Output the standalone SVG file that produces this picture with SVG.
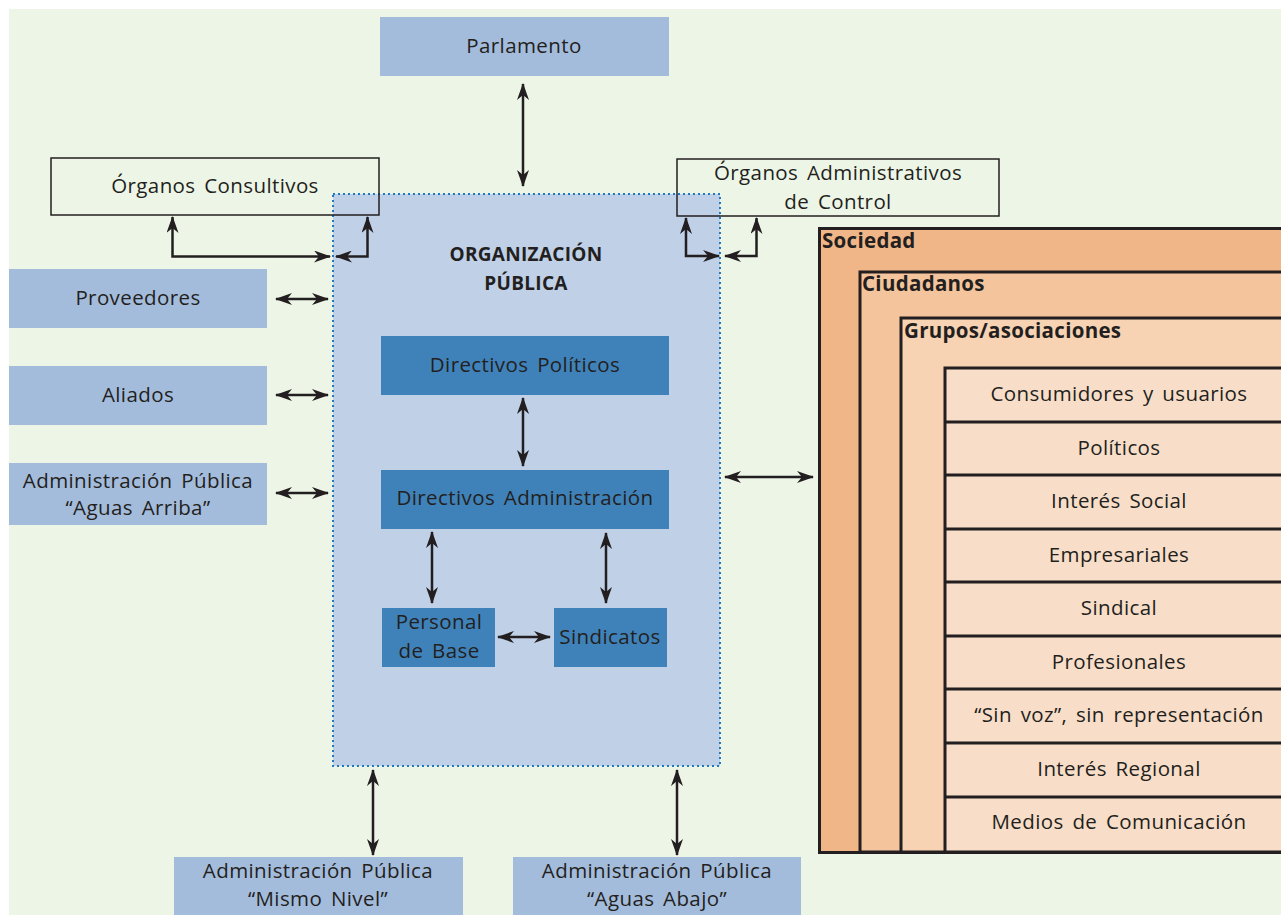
<svg xmlns="http://www.w3.org/2000/svg" width="1281" height="915" viewBox="0 0 1281 915">
<style>
.t{font-family:"Open Sans","Liberation Sans",sans-serif;font-size:20.5px;letter-spacing:0.4px;word-spacing:3px;fill:#231F20;text-anchor:middle}
.b{font-family:"Open Sans","Liberation Sans",sans-serif;font-size:19px;font-weight:bold;fill:#231F20}
.h{font-size:20.5px;letter-spacing:0.3px}
.lb{fill:#A4BCDC}
.db{fill:#3F82BA}
.ob{fill:none;stroke:#231F20;stroke-width:1.5}
.c{fill:none;stroke:#231F20;stroke-width:2.5;marker-start:url(#a);marker-end:url(#a)}
.s{stroke:#231F20;stroke-width:3}
</style>
<defs>
<marker id="a" markerUnits="userSpaceOnUse" markerWidth="17" markerHeight="12" refX="16" refY="6" orient="auto-start-reverse">
<path d="M0,0 L17,6 L0,12 L5,6 z" fill="#231F20"/>
</marker>
</defs>
<rect x="0" y="0" width="1281" height="915" fill="#FFFFFF"/>
<rect x="9" y="9" width="1272" height="906" fill="#EDF5E6"/>

<g id="org-publica">
<rect x="333" y="194" width="387" height="572" fill="#BFD0E7" stroke="#1F78C0" stroke-width="2" stroke-dasharray="2,3"/>
<text class="b" x="526" y="261" text-anchor="middle" letter-spacing="0.3">ORGANIZACIÓN</text>
<text class="b" x="526" y="290" text-anchor="middle" letter-spacing="0.3">PÚBLICA</text>
</g>

<g id="parlamento"><rect class="lb" x="380" y="17" width="289" height="59"/><text class="t" x="524" y="53">Parlamento</text></g>
<g id="consultivos"><rect class="ob" x="51" y="158" width="328" height="57"/><text class="t" x="215" y="193">Órganos Consultivos</text></g>
<g id="control"><rect class="ob" x="677" y="159" width="322" height="57"/><text class="t" x="838" y="180">Órganos Administrativos</text><text class="t" x="838" y="209">de Control</text></g>
<g id="proveedores"><rect class="lb" x="9" y="269" width="258" height="59"/><text class="t" x="138" y="305">Proveedores</text></g>
<g id="aliados"><rect class="lb" x="9" y="366" width="258" height="59"/><text class="t" x="138" y="402">Aliados</text></g>
<g id="aguas-arriba"><rect class="lb" x="9" y="463" width="258" height="62"/><text class="t" x="138" y="488">Administración Pública</text><text class="t" x="138" y="515">“Aguas Arriba”</text></g>
<g id="dir-politicos"><rect class="db" x="381" y="336" width="288" height="59"/><text class="t" x="525" y="372">Directivos Políticos</text></g>
<g id="dir-admin"><rect class="db" x="381" y="470" width="288" height="59"/><text class="t" x="525" y="505">Directivos Administración</text></g>
<g id="personal"><rect class="db" x="382" y="608" width="113" height="59"/><text class="t" x="439" y="629">Personal</text><text class="t" x="439" y="658">de Base</text></g>
<g id="sindicatos"><rect class="db" x="554" y="608" width="113" height="59"/><text class="t" x="610" y="644">Sindicatos</text></g>
<g id="mismo-nivel"><rect class="lb" x="174" y="857" width="289" height="58"/><text class="t" x="318" y="878">Administración Pública</text><text class="t" x="318" y="906">“Mismo Nivel”</text></g>
<g id="aguas-abajo"><rect class="lb" x="513" y="857" width="288" height="58"/><text class="t" x="657" y="878">Administración Pública</text><text class="t" x="657" y="906">“Aguas Abajo”</text></g>

<g id="sociedad">
<rect class="s" x="819.5" y="228.5" width="470" height="624" fill="#F0B688"/>
<text class="b h" x="822" y="248">Sociedad</text>
<rect class="s" x="860" y="272" width="430" height="580" fill="#F4C49C"/>
<text class="b h" x="862" y="291">Ciudadanos</text>
<rect class="s" x="901" y="318" width="390" height="534" fill="#F7D2B3"/>
<text class="b h" x="904" y="338">Grupos/asociaciones</text>
<rect class="s" x="945" y="368" width="345" height="484" fill="#F8DEC8"/>
<g stroke="#231F20" stroke-width="3">
<line x1="945" y1="422" x2="1281" y2="422"/>
<line x1="945" y1="475" x2="1281" y2="475"/>
<line x1="945" y1="529" x2="1281" y2="529"/>
<line x1="945" y1="582" x2="1281" y2="582"/>
<line x1="945" y1="636" x2="1281" y2="636"/>
<line x1="945" y1="689" x2="1281" y2="689"/>
<line x1="945" y1="743" x2="1281" y2="743"/>
<line x1="945" y1="797" x2="1281" y2="797"/>
</g>
<text class="t" x="1119" y="401">Consumidores y usuarios</text>
<text class="t" x="1119" y="455">Políticos</text>
<text class="t" x="1119" y="508">Interés Social</text>
<text class="t" x="1119" y="562">Empresariales</text>
<text class="t" x="1119" y="615">Sindical</text>
<text class="t" x="1119" y="669">Profesionales</text>
<text class="t" x="1119" y="722">“Sin voz”, sin representación</text>
<text class="t" x="1119" y="776">Interés Regional</text>
<text class="t" x="1119" y="829">Medios de Comunicación</text>
</g>

<g id="connectors">
<line class="c" x1="523" y1="84" x2="523" y2="186"/>
<path class="c" d="M172.5,217 V256.5 H330"/>
<path class="c" d="M336,256.5 H367.5 V217"/>
<path class="c" d="M686,218 V256 H719"/>
<path class="c" d="M725,256 H756.5 V218"/>
<line class="c" x1="276" y1="299" x2="328" y2="299"/>
<line class="c" x1="276" y1="395" x2="328" y2="395"/>
<line class="c" x1="276" y1="493" x2="328" y2="493"/>
<line class="c" x1="523" y1="398" x2="523" y2="466"/>
<line class="c" x1="432" y1="532" x2="432" y2="603"/>
<line class="c" x1="606" y1="533" x2="606" y2="603"/>
<line class="c" x1="498" y1="637" x2="550" y2="637"/>
<line class="c" x1="725" y1="477" x2="813" y2="477"/>
<line class="c" x1="373" y1="770" x2="373" y2="855"/>
<line class="c" x1="677" y1="770" x2="677" y2="855"/>
</g>
</svg>
